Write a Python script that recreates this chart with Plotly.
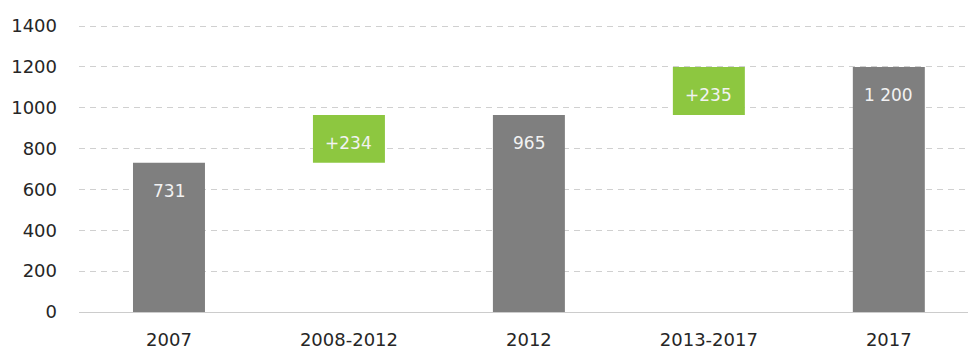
import plotly.graph_objects as go

# Waterfall data: totals and period increments
categories = ["2007", "2008-2012", "2012", "2013-2017", "2017"]
amounts = [731, 234, 965, 235, 1200]
kinds = ["total", "delta", "total", "delta", "total"]
y_ticks = [0, 200, 400, 600, 800, 1000, 1200, 1400]

GRAY = "#7f7f7f"
GREEN = "#8dc740"
FONT = "DejaVu Sans"


def fmt(v, kind):
    s = f"{v:,}".replace(",", " ")
    return "+" + s if kind == "delta" else s


# Each delta bar floats on top of the preceding total
bases, tops = [], []
running = 0
for v, k in zip(amounts, kinds):
    if k == "total":
        bases.append(0)
        running = v
    else:
        bases.append(running)
        running += v
    tops.append(bases[-1] + v)

colors = [GRAY if k == "total" else GREEN for k in kinds]

fig = go.Figure(
    go.Bar(
        x=categories,
        y=amounts,
        base=bases,
        width=0.4,
        marker=dict(color=colors, line=dict(width=0)),
        hoverinfo="skip",
    )
)

# Value labels sit just below the top of each bar (x given as category index)
for i, (top, v, k) in enumerate(zip(tops, amounts, kinds)):
    fig.add_annotation(
        x=i, y=top, yshift=-28, text=fmt(v, k), showarrow=False,
        font=dict(family=FONT, size=17, color="#f2f2f2"),
        xanchor="center", yanchor="middle",
    )

fig.update_layout(
    width=968, height=349,
    margin=dict(l=79, r=0, t=24, b=37),
    paper_bgcolor="white", plot_bgcolor="white",
    showlegend=False,
    bargap=0.6,
    font=dict(family=FONT, size=17, color="#333333"),
)
fig.update_xaxes(
    type="category", range=[-0.5, 4.44],
    showgrid=False, showline=False, ticks="",
    ticklabelstandoff=15,
    tickfont=dict(family=FONT, size=18, color="#262626"),
)
fig.update_yaxes(
    range=[0, 1410], tickvals=y_ticks,
    showgrid=True, gridcolor="#d0d0d0", gridwidth=1, griddash="6px,5px",
    zeroline=True, zerolinecolor="#cccccc", zerolinewidth=1,
    showline=False, ticks="", ticklabelstandoff=21,
    tickfont=dict(family=FONT, size=18, color="#262626"),
)

fig.write_html("out.html")
